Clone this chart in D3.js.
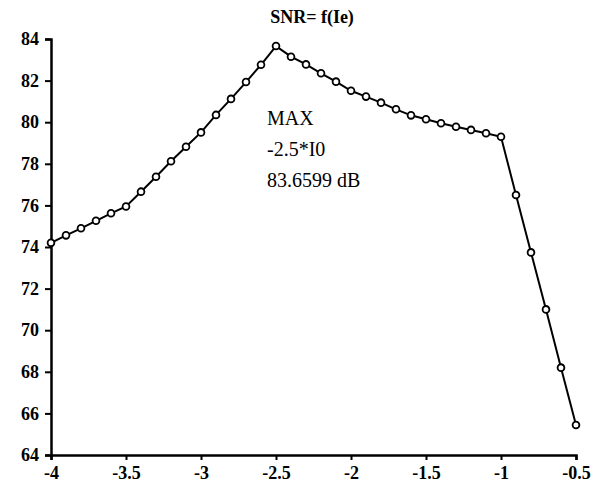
<!DOCTYPE html>
<html><head><meta charset="utf-8">
<script src="https://cdn.jsdelivr.net/npm/d3@7"></script>
<style>body{margin:0;background:#fff}svg{display:block}</style>
</head><body>
<script>
const xValues = [-4,-3.9,-3.8,-3.7,-3.6,-3.5,-3.4,-3.3,-3.2,-3.1,-3,-2.9,-2.8,-2.7,-2.6,-2.5,-2.4,-2.3,-2.2,-2.1,-2,-1.9,-1.8,-1.7,-1.6,-1.5,-1.4,-1.3,-1.2,-1.1,-1,-0.9,-0.8,-0.7,-0.6,-0.5];
const snrValues = [74.2,74.56,74.9,75.26,75.62,75.95,76.66,77.38,78.12,78.82,79.51,80.35,81.12,81.93,82.76,83.66,83.15,82.78,82.35,81.95,81.51,81.23,80.94,80.62,80.33,80.14,79.95,79.78,79.63,79.47,79.3,76.5,73.74,71.0,68.2,65.44];
const xTicks = [-4,-3.5,-3,-2.5,-2,-1.5,-1,-0.5];
const xTickLabels = ["-4","-3.5","-3","-2.5","-2","-1.5","-1","-0.5"];
const yTicks = [64,66,68,70,72,74,76,78,80,82,84];
const titleText = "SNR= f(Ie)";
const noteLines = ["MAX","-2.5*I0","83.6599 dB"];

const W = 596, H = 487;
const svg = d3.select("body").append("svg").attr("width", W).attr("height", H);
const x = d3.scaleLinear().domain([-4, -0.5]).range([51, 576]);
const y = d3.scaleLinear().domain([64, 84]).range([455, 39]);
const font = "'Liberation Serif','Times New Roman',serif";

const xAxis = svg.append("g").attr("transform", `translate(0,${y(64)})`)
  .call(d3.axisBottom(x).tickValues(xTicks).tickFormat((d,i)=>xTickLabels[i]).tickSizeOuter(0).tickSize(5).tickPadding(6));
const yAxis = svg.append("g").attr("transform", `translate(${x(-4)},0)`)
  .call(d3.axisLeft(y).tickValues(yTicks).tickFormat(d3.format("d")).tickSizeOuter(0).tickSize(6).tickPadding(6));
[xAxis, yAxis].forEach(g => {
  g.select(".domain").attr("stroke", "#000").attr("stroke-width", 2.5);
  g.selectAll(".tick line").attr("stroke", "#000").attr("stroke-width", 2);
  g.selectAll(".tick text").attr("fill", "#000").style("font-family", font).style("font-weight", "bold").style("font-size", "18px");
});

const pts = xValues.map((v,i)=>[v, snrValues[i]]);
svg.append("path").datum(pts)
  .attr("fill","none").attr("stroke","#000").attr("stroke-width",2)
  .attr("d", d3.line().x(d=>x(d[0])).y(d=>y(d[1])));
svg.append("g").selectAll("circle").data(pts).join("circle")
  .attr("cx", d=>x(d[0])).attr("cy", d=>y(d[1])).attr("r", 3.4)
  .attr("fill","#fff").attr("stroke","#000").attr("stroke-width",1.8);

svg.append("text").attr("x", 312).attr("y", 23).attr("text-anchor","middle")
  .style("font-family", font).style("font-weight","bold").style("font-size","18px").text(titleText);

svg.append("g").selectAll("text").data(noteLines).join("text")
  .attr("x", 267).attr("y", (d,i)=>125 + i*31)
  .style("font-family", font).style("font-size","20px").attr("fill","#000").text(d=>d);
</script>
</body></html>
